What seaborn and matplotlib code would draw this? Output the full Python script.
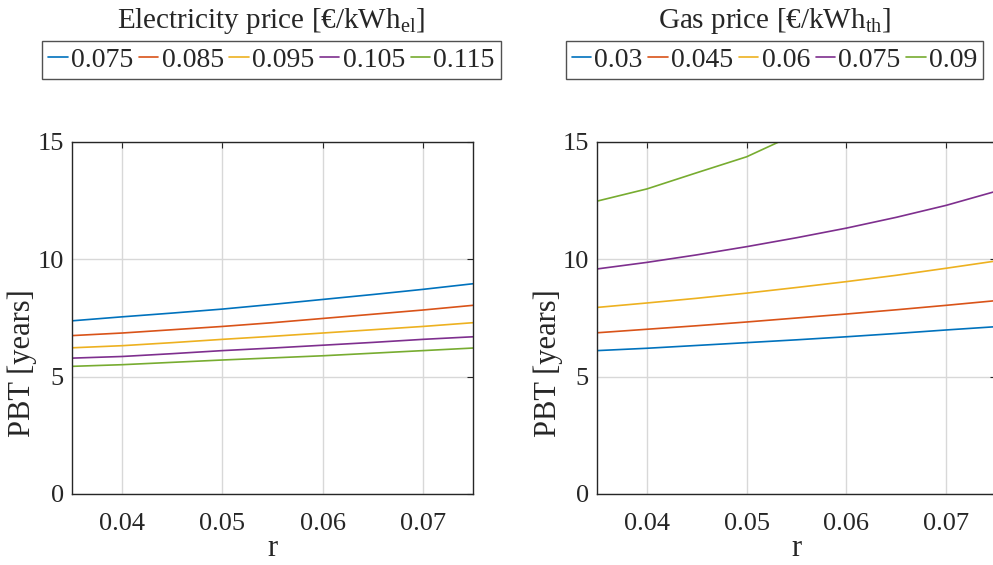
import matplotlib
matplotlib.use("Agg")
import matplotlib.pyplot as plt
import seaborn as sns
import pandas as pd

# Interest rate grid
r = [0.035, 0.04, 0.045, 0.05, 0.055, 0.06, 0.065, 0.07, 0.075]

# Payback time vs. r for different electricity prices [€/kWh_el]
elec_prices = ["0.075", "0.085", "0.095", "0.105", "0.115"]
pbt_elec_0075 = [7.38, 7.55, 7.71, 7.88, 8.08, 8.29, 8.50, 8.72, 8.96]
pbt_elec_0085 = [6.75, 6.86, 7.00, 7.14, 7.30, 7.48, 7.66, 7.84, 8.04]
pbt_elec_0095 = [6.23, 6.32, 6.45, 6.59, 6.72, 6.86, 7.00, 7.14, 7.30]
pbt_elec_0105 = [5.79, 5.86, 5.98, 6.11, 6.22, 6.34, 6.46, 6.59, 6.70]
pbt_elec_0115 = [5.44, 5.51, 5.61, 5.71, 5.80, 5.89, 6.00, 6.11, 6.22]

# Payback time vs. r for different gas prices [€/kWh_th]
gas_prices = ["0.03", "0.045", "0.06", "0.075", "0.09"]
pbt_gas_003 = [6.11, 6.21, 6.33, 6.45, 6.57, 6.70, 6.84, 6.99, 7.13]
pbt_gas_0045 = [6.87, 7.02, 7.17, 7.33, 7.50, 7.67, 7.85, 8.04, 8.24]
pbt_gas_006 = [7.95, 8.14, 8.34, 8.56, 8.80, 9.05, 9.32, 9.62, 9.93]
pbt_gas_0075 = [9.59, 9.87, 10.19, 10.54, 10.92, 11.33, 11.79, 12.30, 12.90]
pbt_gas_009 = [12.48, 13.00, 13.69, 14.37, 15.35]

xticks = [0.04, 0.05, 0.06, 0.07]
yticks = [0, 5, 10, 15]

colors = ["#0072BD", "#D95319", "#EDB120", "#7E2F8E", "#77AC30"]


def long_form(labels, series):
    rows = []
    for lab, vals in zip(labels, series):
        for x, y in zip(r, vals):
            rows.append({"r": x, "PBT": y, "price": lab})
    return pd.DataFrame(rows)


df_elec = long_form(elec_prices, [pbt_elec_0075, pbt_elec_0085, pbt_elec_0095,
                                  pbt_elec_0105, pbt_elec_0115])
df_gas = long_form(gas_prices, [pbt_gas_003, pbt_gas_0045, pbt_gas_006,
                                pbt_gas_0075, pbt_gas_009])

sns.set_theme(style="white")
plt.rcParams["font.family"] = ["Liberation Serif", "DejaVu Serif"]
plt.rcParams["mathtext.fontset"] = "custom"
plt.rcParams["mathtext.rm"] = "Liberation Serif"
plt.rcParams["mathtext.it"] = "Liberation Serif:italic"
plt.rcParams["text.color"] = "#262626"
plt.rcParams["axes.labelcolor"] = "#262626"

W, H = 993, 565
fig = plt.figure(figsize=(W / 100, H / 100), dpi=100)

# (data, hue order, axes x-extent [px], legend/title centre [px], y-label centre [px], title)
panels = [
    (df_elec, elec_prices, (72, 473), 271.5, 22,
     r"Electricity price [€/kWh$_{\mathregular{el}}$]"),
    (df_gas, gas_prices, (597, 996), 774.5, 548,
     r"Gas price [€/kWh$_{\mathregular{th}}$]"),
]

for df, hue_order, (x0, x1), cx, ylx, title in panels:
    ax = fig.add_axes([x0 / W, (H - 494) / H, (x1 - x0) / W, (494 - 142) / H])
    sns.lineplot(data=df, x="r", y="PBT", hue="price", hue_order=hue_order,
                 palette=colors, linewidth=1.2, ax=ax, legend=False, sort=True)
    ax.set_xlim(0.035, 0.075)
    ax.set_ylim(0, 15)
    ax.set_xticks(xticks)
    ax.set_xticklabels([f"{t:g}" for t in xticks])
    ax.set_yticks(yticks)
    ax.grid(True, color="#d8d8d8", linewidth=1.0)
    ax.set_axisbelow(True)
    for s in ax.spines.values():
        s.set_color("#262626")
        s.set_linewidth(1.0)
        s.set_visible(True)
    ax.tick_params(direction="in", length=4, width=0.8, top=True, right=True,
                   labelsize=19, colors="#262626")
    ax.tick_params(axis="x", pad=14)
    ax.tick_params(axis="y", pad=6)

    ax.set_xlabel("r", fontsize=22, va="center")
    ax.xaxis.set_label_coords((x0 + x1) / 2 / W, (H - 548) / H,
                              transform=fig.transFigure)
    ax.set_ylabel("PBT [years]", fontsize=22, va="center", ha="center")
    ax.yaxis.set_label_coords(ylx / W, (H - 363) / H, transform=fig.transFigure)

    handles = ax.get_lines()[:len(hue_order)]
    leg = fig.legend(handles, hue_order, loc="center", ncol=5,
                     bbox_to_anchor=(cx / W, 1 - 60 / H), fontsize=20,
                     frameon=True, fancybox=False, edgecolor="#262626",
                     handlelength=0.7, handletextpad=0.12, columnspacing=0.2,
                     borderpad=0.22, borderaxespad=0.0)
    leg.get_frame().set_linewidth(1.0)
    fig.text(cx / W, 1 - 21 / H, title, ha="center", va="center", fontsize=21)

fig.savefig("out.png", dpi=100)
